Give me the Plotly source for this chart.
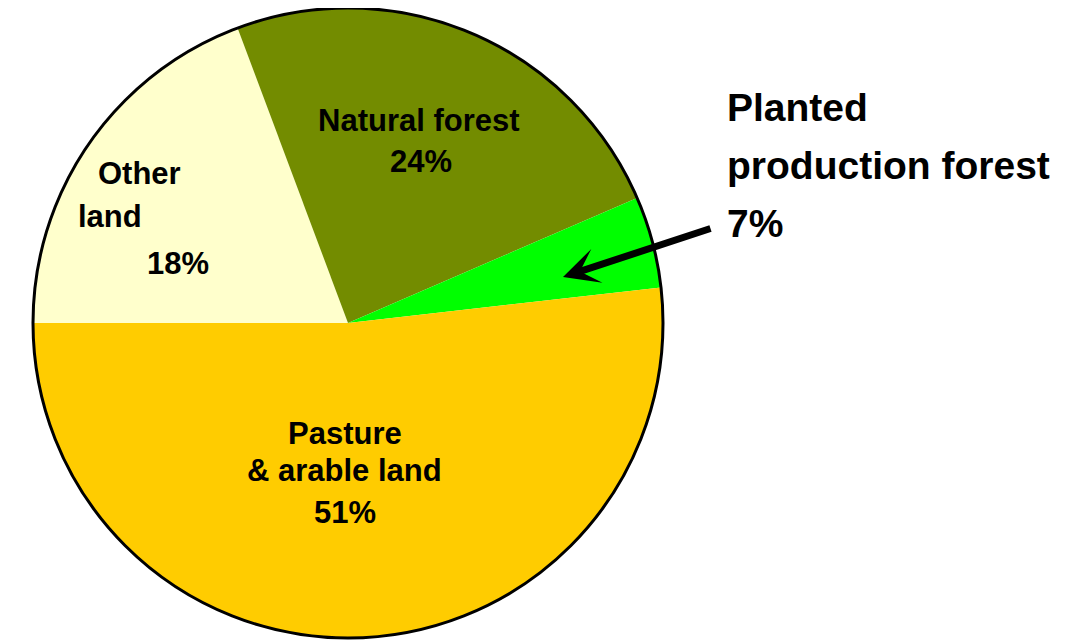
import plotly.graph_objects as go

# slices in clockwise order starting at 9 o'clock
labels = ["Other land", "Natural forest", "Planted production forest", "Pasture & arable land"]
values = [19.3, 24.2, 4.7, 51.8]          # slice sizes as drawn
shown_pct = ["18%", "24%", "7%", "51%"]   # percentages printed on the chart
colors = ["#FFFFCC", "#738C00", "#00FF00", "#FFCC00"]

W, H = 1068, 643
OFF = 8  # page body margin pushes the figure 8px right and down
FONT = "Liberation Sans, Arial, sans-serif"

# pie centred at page (348, 323), radius 315
CX, CY, R = 348 - OFF, 323 - OFF, 315
pie_domain = dict(x=[(CX - R) / W, (CX + R) / W], y=[1 - (CY + R) / H, 1 - (CY - R) / H])

fig = go.Figure()

fig.add_trace(go.Pie(
    labels=labels,
    values=values,
    sort=False,
    direction="clockwise",
    rotation=-90,
    marker=dict(colors=colors, line=dict(width=0)),
    textinfo="none",
    hoverinfo="label+percent",
    domain=pie_domain,
    showlegend=False,
))

# outline only around the rim, no radial edges
fig.add_trace(go.Pie(
    values=[1],
    marker=dict(colors=["rgba(0,0,0,0)"], line=dict(color="black", width=3)),
    textinfo="none",
    hoverinfo="skip",
    domain=pie_domain,
    showlegend=False,
))


def px_note(text, x, y, size, xanchor="center"):
    # x, y are page pixel positions
    fig.add_annotation(
        text=text, x=(x - OFF) / W, y=1 - (y - OFF) / H, xref="paper", yref="paper",
        showarrow=False, xanchor=xanchor, yanchor="middle",
        font=dict(family=FONT, size=size, color="black", weight="bold"),
    )


# inside labels, one line at a time
px_note("Other", 139, 174, 31)
px_note("land", 110, 216, 31)
px_note(shown_pct[0], 178, 263, 31)

px_note("Natural forest", 419, 121, 31)
px_note(shown_pct[1], 421, 161, 31)

px_note("Pasture", 345, 433, 31)
px_note("& arable land", 344, 470, 31)
px_note(shown_pct[3], 345, 512, 31)

# callout for the planted forest slice
px_note("Planted", 725, 107, 39, xanchor="left")
px_note("production forest", 725, 165, 39, xanchor="left")
px_note(shown_pct[2], 725, 223, 39, xanchor="left")

fig.add_annotation(
    text="", x=(563 - OFF) / W, y=1 - (277 - OFF) / H, xref="paper", yref="paper",
    ax=149, ay=-49, axref="pixel", ayref="pixel",
    showarrow=True, arrowhead=3, arrowsize=0.85, arrowwidth=7, arrowcolor="black",
)

fig.update_layout(
    width=W, height=H,
    margin=dict(l=0, r=0, t=0, b=0),
    paper_bgcolor="white",
    plot_bgcolor="white",
)

fig.write_html("out.html")
